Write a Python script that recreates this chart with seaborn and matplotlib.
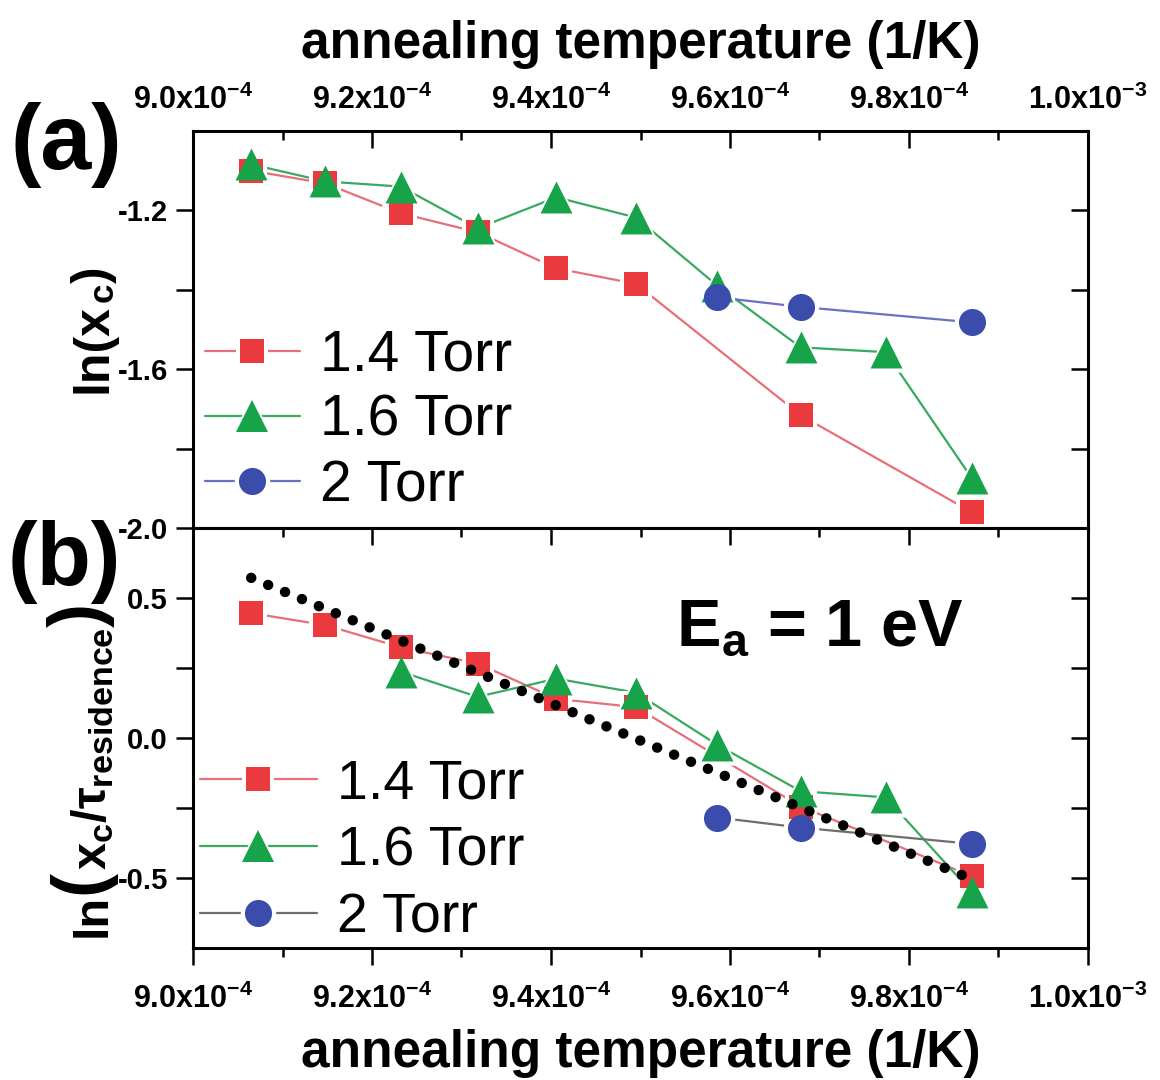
import numpy as np
import matplotlib
matplotlib.use("Agg")
import matplotlib.pyplot as plt
import seaborn as sns
from matplotlib.lines import Line2D
from matplotlib.legend_handler import HandlerTuple
from matplotlib.ticker import FixedLocator, FixedFormatter, MultipleLocator

# ---- data -------------------------------------------------------------
# inverse annealing temperature (1/K) for 830 ... 740 degC
inv_T = [9.065e-4, 9.148e-4, 9.232e-4, 9.318e-4, 9.406e-4,
         9.495e-4, 9.586e-4, 9.679e-4, 9.774e-4, 9.870e-4]

# (a) ln(x_c)
x_14 = [9.065e-4, 9.148e-4, 9.232e-4, 9.318e-4, 9.406e-4, 9.495e-4, 9.679e-4, 9.870e-4]
lnxc_14 = [-1.100, -1.132, -1.207, -1.255, -1.346, -1.385, -1.716, -1.960]
x_16 = inv_T
lnxc_16 = [-1.084, -1.127, -1.140, -1.245, -1.167, -1.218, -1.390, -1.545, -1.557, -1.874]
x_20 = [9.586e-4, 9.679e-4, 9.870e-4]
lnxc_20 = [-1.419, -1.443, -1.482]

# (b) ln(x_c / tau_residence)
lnr_14 = [0.446, 0.403, 0.324, 0.266, 0.140, 0.110, -0.245, -0.493]
x_16b = [9.232e-4, 9.318e-4, 9.406e-4, 9.495e-4, 9.586e-4, 9.679e-4, 9.774e-4, 9.870e-4]
lnr_16 = [0.237, 0.147, 0.212, 0.162, -0.025, -0.190, -0.212, -0.550]
lnr_20 = [-0.284, -0.320, -0.378]

# Arrhenius fit line (E_a = 1 eV)
fit_x = [9.065e-4, 9.870e-4]
fit_y = [0.572, -0.504]

labels = ["1.4 Torr", "1.6 Torr", "2 Torr"]
tick_pos = [9.0e-4, 9.2e-4, 9.4e-4, 9.6e-4, 9.8e-4, 1.0e-3]
tick_txt = [r"9.0x10$^{-4}$", r"9.2x10$^{-4}$", r"9.4x10$^{-4}$",
            r"9.6x10$^{-4}$", r"9.8x10$^{-4}$", r"1.0x10$^{-3}$"]

# ---- style ------------------------------------------------------------
sns.set_theme(style="white")
plt.rcParams["font.family"] = ["Liberation Sans", "DejaVu Sans"]
plt.rcParams["font.weight"] = "bold"
plt.rcParams["mathtext.fontset"] = "custom"
plt.rcParams["mathtext.rm"] = "Liberation Sans:bold"
plt.rcParams["mathtext.it"] = "Liberation Sans:bold"
plt.rcParams["mathtext.bf"] = "Liberation Sans:bold"
plt.rcParams["axes.unicode_minus"] = False
for key in ("text.color", "axes.labelcolor", "xtick.color", "ytick.color"):
    plt.rcParams[key] = "black"

RED, GREEN, BLUE = "#ea3a3d", "#17a34a", "#3a4dad"
RED_L, GREEN_L, BLUE_L, GREY_L = "#e86f78", "#3aa960", "#6b70c2", "#6e6e6e"
MS = {"s": 17, "^": 23, "o": 19.5}
HALO = 6

fig = plt.figure(figsize=(11.6, 10.8), dpi=100)
W, H = 1160, 1080
axA = fig.add_axes([193 / W, 1 - 528 / H, 895 / W, 397 / H])
axB = fig.add_axes([193 / W, 1 - 948 / H, 895 / W, 420 / H])


def series(ax, x, y, marker, mcolor, lcolor):
    sns.lineplot(x=x, y=y, ax=ax, color=lcolor, linewidth=1.6, sort=False,
                 estimator=None, zorder=1)
    sns.scatterplot(x=x, y=y, ax=ax, marker=marker, s=(MS[marker] + HALO) ** 2,
                    color="white", linewidth=0, zorder=2)
    sns.scatterplot(x=x, y=y, ax=ax, marker=marker, s=MS[marker] ** 2,
                    color=mcolor, linewidth=0, zorder=3)


def handle(marker, mcolor, lcolor):
    return (Line2D([], [], color=lcolor, lw=1.6),
            Line2D([], [], ls="none", marker=marker, ms=MS[marker] + HALO,
                   color="white", mew=0),
            Line2D([], [], ls="none", marker=marker, ms=MS[marker],
                   color=mcolor, mew=0))


# (a)
series(axA, x_14, lnxc_14, "s", RED, RED_L)
series(axA, x_16, lnxc_16, "^", GREEN, GREEN_L)
series(axA, x_20, lnxc_20, "o", BLUE, BLUE_L)

# (b)
series(axB, x_14, lnr_14, "s", RED, RED_L)
series(axB, x_16b, lnr_16, "^", GREEN, GREEN_L)
series(axB, x_20, lnr_20, "o", BLUE, GREY_L)
sns.lineplot(x=fit_x, y=fit_y, ax=axB, color="black", linewidth=7.5,
             linestyle=(0, (0.01, 1.75)), dash_capstyle="round",
             sort=False, estimator=None, zorder=5)

for ax in (axA, axB):
    ax.set_xlim(9.0e-4, 1.0e-3)
    ax.xaxis.set_major_locator(FixedLocator(tick_pos))
    ax.xaxis.set_minor_locator(MultipleLocator(1e-5))
    ax.set_xlabel("")
    ax.set_ylabel("")
    for sp in ax.spines.values():
        sp.set_linewidth(2.2)
        sp.set_color("black")
    ax.grid(False)
    ax.tick_params(axis="y", which="both", left=True, right=True, direction="out",
                   length=12, width=1.8, labelsize=21, pad=6)
    ax.tick_params(axis="x", which="major", length=12, width=1.8)
    ax.tick_params(axis="x", which="minor", length=6.5, width=1.8)

# y axes
axA.set_ylim(-2.0, -1.0)
axA.yaxis.set_major_locator(FixedLocator([-2.0, -1.8, -1.6, -1.4, -1.2]))
axA.yaxis.set_major_formatter(FixedFormatter(["-2.0", "", "-1.6", "", "-1.2"]))
axB.set_ylim(-0.75, 0.75)
axB.yaxis.set_major_locator(FixedLocator([-0.5, -0.25, 0.0, 0.25, 0.5]))
axB.yaxis.set_major_formatter(FixedFormatter(["-0.5", "", "0.0", "", "0.5"]))

# x axes: labels on top for (a), at the bottom for (b)
axA.tick_params(axis="x", which="both", top=True, bottom=False,
                labeltop=True, labelbottom=False, direction="in")
axA.tick_params(axis="x", which="major", labelsize=22, pad=11)
axB.tick_params(axis="x", which="both", top=True, bottom=True,
                labelbottom=True, labeltop=False, direction="out")
axB.tick_params(axis="x", which="major", labelsize=22, pad=14)
axA.xaxis.set_major_formatter(FixedFormatter(tick_txt))
axB.xaxis.set_major_formatter(FixedFormatter(tick_txt))

# right-hand ticks point inward, top ticks of (b) point inward
for ax in (axA, axB):
    for t in ax.yaxis.get_major_ticks():
        t.tick2line.set_marker(0)
for t in axB.xaxis.get_major_ticks() + axB.xaxis.get_minor_ticks():
    t.tick2line.set_marker(3)

# axis titles
axA.xaxis.set_label_position("top")
axA.set_xlabel("annealing temperature (1/K)", fontsize=37, fontweight="bold", labelpad=19)
axB.set_xlabel("annealing temperature (1/K)", fontsize=37, fontweight="bold", labelpad=10)

renderer = fig.canvas.get_renderer()


def vertical_label(pieces, x_px, y_center_px):
    """Stack rotated text pieces upward along a shared baseline at x_px."""
    arts = []
    total = 0.0
    for txt, size, shift in pieces:
        t = fig.text(0, 0, txt, fontsize=size, fontweight="bold", rotation=90,
                     rotation_mode="anchor", ha="left", va="baseline")
        h = t.get_window_extent(renderer).height
        arts.append((t, h, shift))
        total += h
    y_bottom = (H - y_center_px) - total / 2
    for t, h, shift in arts:
        t.set_position(((x_px + shift) / W, y_bottom / H))
        y_bottom += h


vertical_label([("ln(x", 36, 0), (r"$_\mathregular{c}$", 36, 0), (")", 36, 0)],
               107, 330)
vertical_label([("ln", 35, 0), ("(", 52, -6), (r"x$_c$/$\tau_{residence}$", 35, 0),
                (")", 52, -6)], 106, 770)

# panel tags
fig.text(66 / W, 1 - 145 / H, "(a)", fontsize=66, fontweight="bold",
         ha="center", va="center")
fig.text(64 / W, 1 - 562 / H, "(b)", fontsize=64, fontweight="bold",
         ha="center", va="center")

# activation energy note
axB.text(0.70, 0.76, r"E$_\mathregular{a}$ = 1 eV", transform=axB.transAxes,
         fontsize=48, fontweight="bold", ha="center", va="center")

# legends
hA = [handle("s", RED, RED_L), handle("^", GREEN, GREEN_L), handle("o", BLUE, BLUE_L)]
axA.legend(hA, labels, handler_map={tuple: HandlerTuple(ndivide=1, pad=0)},
           loc="lower left", bbox_to_anchor=(0.013, 0.037), frameon=False,
           prop={"size": 41, "weight": "normal"}, handlelength=1.67,
           handletextpad=0.35, labelspacing=0.2, borderpad=0, borderaxespad=0)
hB = [handle("s", RED, RED_L), handle("^", GREEN, GREEN_L), handle("o", BLUE, GREY_L)]
axB.legend(hB, labels, handler_map={tuple: HandlerTuple(ndivide=1, pad=0)},
           loc="lower left", bbox_to_anchor=(0.008, 0.008), frameon=False,
           prop={"size": 40, "weight": "normal"}, handlelength=2.1,
           handletextpad=0.36, labelspacing=0.27, borderpad=0, borderaxespad=0)

fig.savefig("out.png", dpi=100, facecolor="white")
